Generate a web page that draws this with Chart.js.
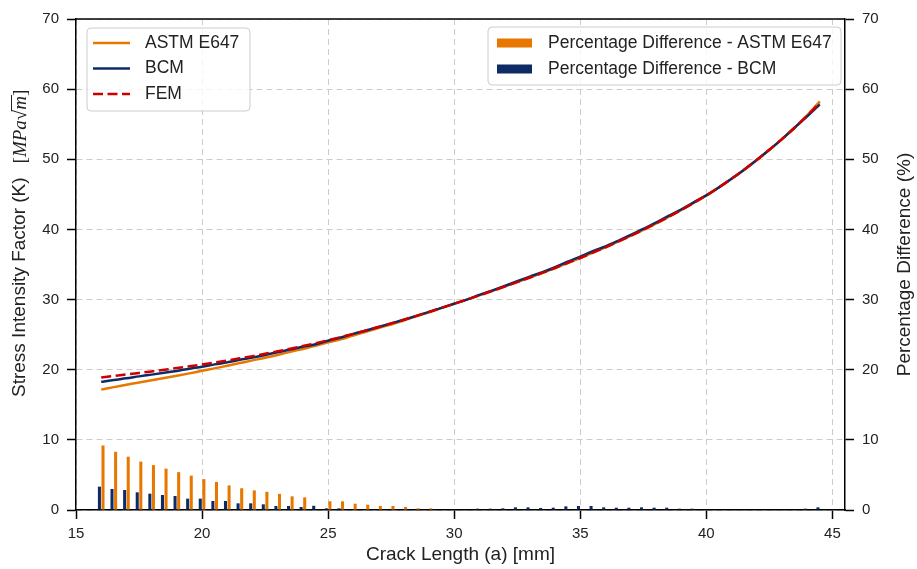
<!DOCTYPE html>
<html>
<head>
<meta charset="utf-8">
<script src="https://cdn.jsdelivr.net/npm/chart.js@4.4.1/dist/chart.umd.min.js"></script>
<style>
  body { margin: 0; background: #fff; }
</style>
</head>
<body>
<canvas id="sifChart" width="917" height="569"></canvas>
<script>
const crackLength = [16, 16.5, 17, 17.5, 18, 18.5, 19, 19.5, 20, 20.5, 21, 21.5, 22, 22.5, 23, 23.5, 24, 24.5, 25, 25.5,
  26, 26.5, 27, 27.5, 28, 28.5, 29, 29.5, 30, 30.5, 31, 31.5, 32, 32.5, 33, 33.5, 34, 34.5, 35, 35.5,
  36, 36.5, 37, 37.5, 38, 38.5, 39, 39.5, 40, 40.5, 41, 41.5, 42, 42.5, 43, 43.5, 44, 44.5];

const kAstm = [17.16, 17.52, 17.85, 18.19, 18.50, 18.81, 19.14, 19.48, 19.84, 20.19,
  20.57, 20.95, 21.33, 21.70, 22.11, 22.55, 22.96, 23.40, 23.90, 24.34,
  24.88, 25.40, 25.94, 26.45, 27.01, 27.61, 28.17, 28.82, 29.41, 30.00,
  30.60, 31.22, 31.85, 32.49, 33.14, 33.81, 34.50, 35.21, 35.93, 36.68,
  37.45, 38.25, 39.08, 39.94, 40.84, 41.78, 42.76, 43.78, 44.85, 46.00,
  47.22, 48.52, 49.90, 51.35, 52.88, 54.50, 56.30, 58.25];

const kBcm = [18.27, 18.54, 18.77, 19.05, 19.30, 19.56, 19.83, 20.15, 20.41, 20.76,
  21.05, 21.41, 21.73, 22.10, 22.50, 22.87, 23.28, 23.64, 24.14, 24.59,
  25.11, 25.59, 26.09, 26.60, 27.13, 27.68, 28.24, 28.82, 29.41, 30.00,
  30.66, 31.28, 31.93, 32.61, 33.27, 33.91, 34.61, 35.39, 36.13, 36.89,
  37.59, 38.38, 39.21, 40.09, 40.97, 41.92, 42.84, 43.86, 44.85, 46.00,
  47.22, 48.52, 49.90, 51.35, 52.88, 54.50, 56.11, 57.83];

const kFem = [18.90, 19.11, 19.32, 19.54, 19.76, 19.99, 20.23, 20.48, 20.75, 21.03,
  21.32, 21.62, 21.94, 22.28, 22.63, 23.00, 23.38, 23.78, 24.20, 24.65,
  25.11, 25.59, 26.09, 26.60, 27.13, 27.68, 28.24, 28.82, 29.41, 30.00,
  30.60, 31.22, 31.85, 32.49, 33.14, 33.81, 34.50, 35.21, 35.93, 36.68,
  37.45, 38.25, 39.08, 39.94, 40.84, 41.78, 42.76, 43.78, 44.85, 46.00,
  47.22, 48.52, 49.90, 51.35, 52.88, 54.50, 56.22, 58.05];

// percentage difference to FEM (%)
const diffAstm = [9.2, 8.3, 7.6, 6.9, 6.4, 5.9, 5.4, 4.9, 4.4, 4.0,
  3.5, 3.1, 2.8, 2.6, 2.3, 1.95, 1.8, 0, 1.24, 1.24,
  0.9, 0.76, 0.57, 0.57, 0.43, 0.24, 0.24, 0, 0, 0,
  0, 0, 0, 0, 0, 0, 0, 0, 0, 0,
  0, 0, 0, 0, 0, 0, 0, 0, 0, 0,
  0, 0, 0, 0, 0, 0, 0, 0];

const diffBcm = [3.33, 3.0, 2.85, 2.52, 2.33, 2.14, 2.0, 1.62, 1.62, 1.28,
  1.28, 0.95, 0.95, 0.81, 0.57, 0.57, 0.43, 0.6, 0.24, 0.24,
  0, 0, 0, 0, 0, 0, 0, 0, 0, 0,
  0.19, 0.19, 0.24, 0.38, 0.38, 0.29, 0.33, 0.52, 0.57, 0.57,
  0.38, 0.33, 0.33, 0.38, 0.33, 0.33, 0.19, 0.19, 0, 0,
  0, 0, 0, 0, 0, 0, 0.19, 0.38];

const xTicks = [15, 20, 25, 30, 35, 40, 45];
const yTicks = [0, 10, 20, 30, 40, 50, 60, 70];

const ORANGE = '#e87700';
const NAVY = '#0f2b66';
const RED = '#cc0000';
const TEXT = '#222222';

Chart.defaults.font.family = '"Liberation Sans", Arial, sans-serif';
Chart.defaults.color = TEXT;

const pts = arr => crackLength.map((a, i) => ({ x: a, y: arr[i] }));

function frame(ctx, x, y, w, h) {
  ctx.beginPath();
  ctx.roundRect(x, y, w, h, 4);
  ctx.fillStyle = 'rgba(255,255,255,0.8)';
  ctx.fill();
  ctx.strokeStyle = '#cccccc';
  ctx.lineWidth = 1;
  ctx.stroke();
}

// top border + both legends + rotated axis titles
const extras = {
  id: 'extras',
  afterDraw(chart) {
    const { ctx, chartArea } = chart;
    const ds = chart.data.datasets;
    ctx.save();

    ctx.strokeStyle = '#000';
    ctx.lineWidth = 1.5;
    ctx.beginPath();
    ctx.moveTo(chartArea.left, chartArea.top);
    ctx.lineTo(chartArea.right, chartArea.top);
    ctx.stroke();

    ctx.font = '17.5px "Liberation Sans"';
    ctx.textBaseline = 'middle';
    ctx.textAlign = 'left';

    frame(ctx, 87, 28, 163, 83);
    ds.filter(d => d.type === 'line').forEach((d, i) => {
      const y = 43 + i * 25.5;
      ctx.strokeStyle = d.borderColor;
      ctx.lineWidth = d.borderWidth;
      ctx.setLineDash(d.borderDash || []);
      ctx.beginPath();
      ctx.moveTo(93, y);
      ctx.lineTo(130, y);
      ctx.stroke();
      ctx.setLineDash([]);
      ctx.fillStyle = TEXT;
      ctx.fillText(d.label, 145, y);
    });

    frame(ctx, 488, 27, 353, 58);
    ds.filter(d => d.type === 'bar').forEach((d, i) => {
      const y = 43 + i * 26;
      ctx.fillStyle = d.backgroundColor;
      ctx.fillRect(497, y - 4.5, 35, 9);
      ctx.fillStyle = TEXT;
      ctx.fillText(d.label, 548, y);
    });

    // left title, unit in math italic
    ctx.fillStyle = TEXT;
    ctx.save();
    ctx.translate(20, 397);
    ctx.rotate(-Math.PI / 2);
    ctx.font = '19px "Liberation Sans"';
    const main = 'Stress Intensity Factor (K)';
    ctx.fillText(main, 0, 0);
    let x = ctx.measureText(main).width + 14;
    const up = '19px "Liberation Serif"';
    const it = 'italic 19px "Liberation Serif"';
    const piece = (t, f) => { ctx.font = f; ctx.fillText(t, x, 1); const w = ctx.measureText(t).width; x += w; return w; };
    piece('[', up);
    piece('MPa', it);
    const sx = x;
    const sw = piece('\u221A', up);
    const mw = piece('m', it);
    ctx.lineWidth = 1;
    ctx.strokeStyle = TEXT;
    ctx.beginPath();
    ctx.moveTo(sx + sw * 0.85, -8.5);
    ctx.lineTo(sx + sw + mw + 1, -8.5);
    ctx.stroke();
    piece(']', up);
    ctx.restore();

    ctx.save();
    ctx.translate(905, (chartArea.top + chartArea.bottom) / 2);
    ctx.rotate(-Math.PI / 2);
    ctx.textAlign = 'center';
    ctx.font = '19px "Liberation Sans"';
    ctx.fillText('Percentage Difference (%)', 0, 0);
    ctx.restore();

    ctx.restore();
  }
};

const gridOpts = { color: '#cccccc', lineWidth: 1, tickColor: '#000', tickLength: 9, tickWidth: 1.5 };
const borderOpts = { color: '#000', width: 1.5, dash: [6, 4] };

const chart = new Chart(document.getElementById('sifChart'), {
  type: 'line',
  data: {
    datasets: [
      { type: 'line', label: 'ASTM E647', data: pts(kAstm), borderColor: ORANGE, borderWidth: 2.5, pointRadius: 0, cubicInterpolationMode: 'monotone', order: 3 },
      { type: 'line', label: 'BCM', data: pts(kBcm), borderColor: NAVY, borderWidth: 2.5, pointRadius: 0, cubicInterpolationMode: 'monotone', order: 2 },
      { type: 'line', label: 'FEM', data: pts(kFem), borderColor: RED, borderWidth: 2.5, borderDash: [10, 4.5], pointRadius: 0, cubicInterpolationMode: 'monotone', order: 1 },
      { type: 'bar', label: 'Percentage Difference - ASTM E647', data: pts(diffAstm), backgroundColor: ORANGE, yAxisID: 'y1',
        categoryPercentage: 0.57, barPercentage: 0.85, order: 5 },
      { type: 'bar', label: 'Percentage Difference - BCM', data: pts(diffBcm), backgroundColor: NAVY, yAxisID: 'y1',
        categoryPercentage: 0.57, barPercentage: 0.85, order: 4 }
    ]
  },
  options: {
    responsive: false,
    animation: false,
    layout: { padding: { top: 19, left: 0, right: 0, bottom: 0 } },
    plugins: { legend: { display: false }, tooltip: { enabled: false } },
    scales: {
      x: {
        type: 'linear', min: 15, max: 45.5, offset: false,
        afterBuildTicks: s => { s.ticks = xTicks.map(v => ({ value: v })); },
        afterFit: s => { s.height = 59; },
        grid: { ...gridOpts, offset: false },
        border: borderOpts,
        ticks: { font: { size: 15 }, padding: 6, maxRotation: 0 },
        title: { display: true, text: 'Crack Length (a) [mm]', font: { size: 19 }, padding: { top: 0, bottom: 3 } }
      },
      y: {
        position: 'left', min: 0, max: 70,
        afterBuildTicks: s => { s.ticks = yTicks.map(v => ({ value: v })); },
        afterFit: s => { s.width = 76; },
        grid: gridOpts,
        border: borderOpts,
        ticks: { font: { size: 15 }, padding: 8 }
      },
      y1: {
        position: 'right', min: 0, max: 70,
        afterBuildTicks: s => { s.ticks = yTicks.map(v => ({ value: v })); },
        afterFit: s => { s.width = 72; },
        grid: { ...gridOpts, drawOnChartArea: false },
        border: { color: '#000', width: 1.5 },
        ticks: { font: { size: 15 }, padding: 8 }
      }
    }
  },
  plugins: [extras]
});
</script>
</body>
</html>
